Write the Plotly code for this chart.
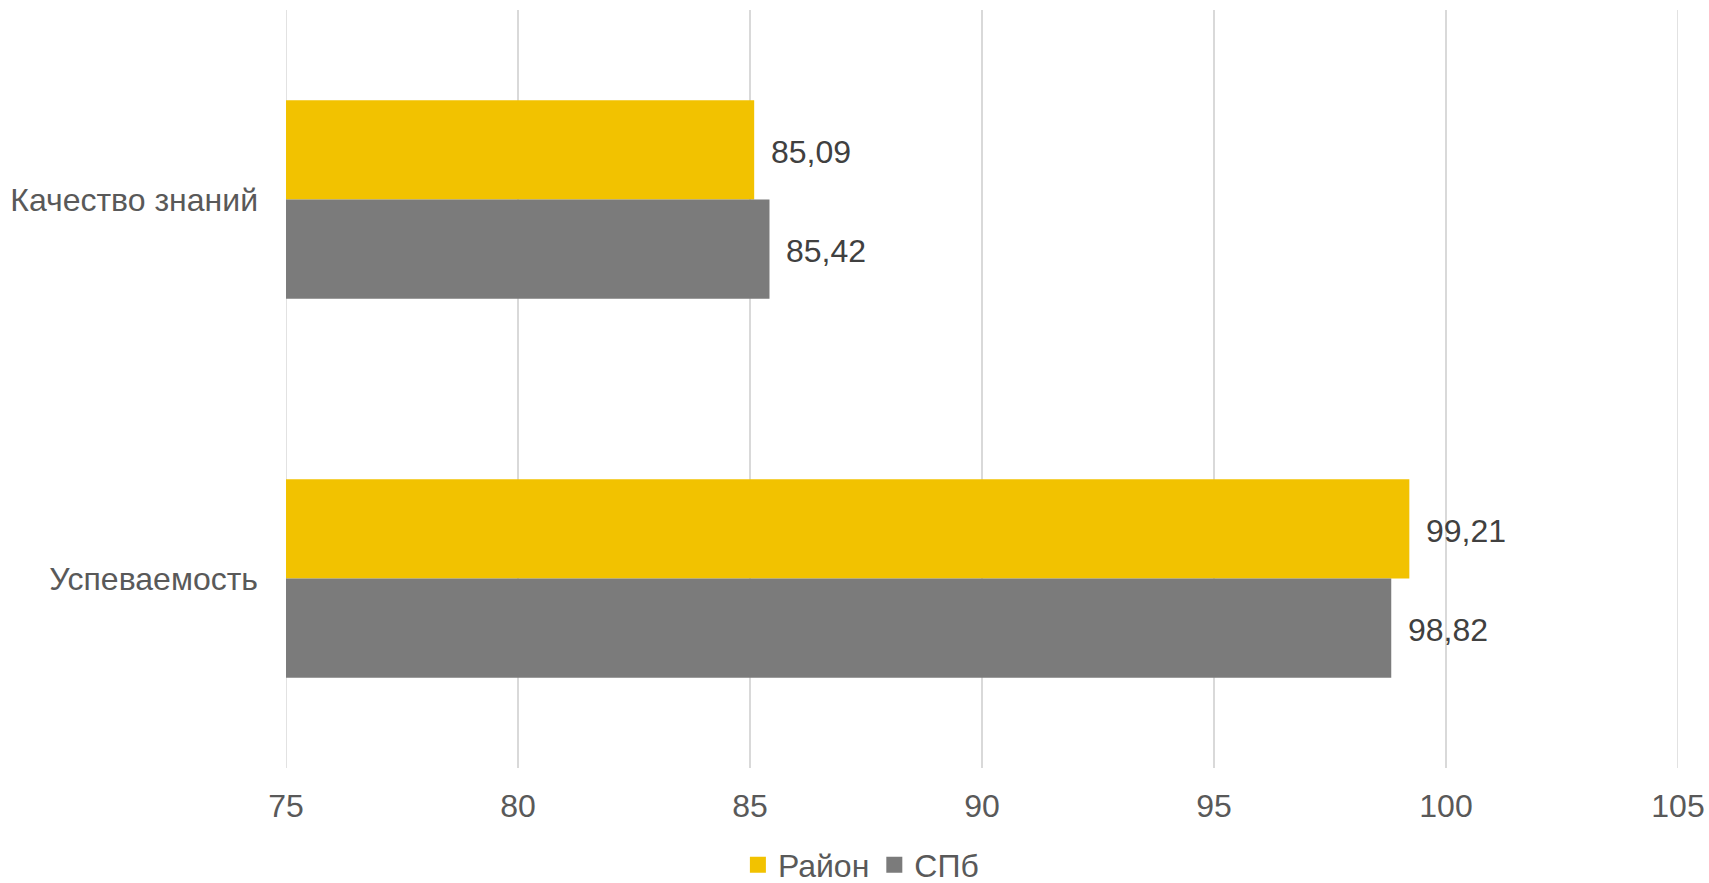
import plotly.graph_objects as go

categories = ["Качество знаний", "Успеваемость"]
rayon = [85.09, 99.21]
spb = [85.42, 98.82]
series_names = ["Район", "СПб"]
x_ticks = [75, 80, 85, 90, 95, 100, 105]

colors = ["#F2C200", "#7B7B7B"]
FONT = "Liberation Sans, Arial, sans-serif"
FS = 32
GRID = "#D9D9D9"


def fmt(v):
    return f"{v:.2f}".replace(".", ",")


fig = go.Figure()
for name, vals, col in zip(series_names, [rayon, spb], colors):
    fig.add_trace(go.Bar(
        y=categories, x=vals, name=name, orientation="h",
        marker=dict(color=col, line=dict(width=0)),
        showlegend=False,
    ))
# legend entries with larger square symbols
for name, col in zip(series_names, colors):
    fig.add_trace(go.Scatter(
        x=[None], y=[None], mode="markers", name=name,
        marker=dict(symbol="square", size=17, color=col),
        showlegend=True,
    ))

# value labels right of bar ends
bargap = 0.476
half = (1 - bargap) / 4
offsets = [-half, half]
for si, vals in enumerate([rayon, spb]):
    for ci, v in enumerate(vals):
        fig.add_annotation(
            x=v, y=ci + offsets[si], xref="x", yref="y",
            text=fmt(v), showarrow=False, xanchor="left", yanchor="middle",
            xshift=15, yshift=-2, font=dict(family=FONT, size=FS, color="#404040"),
        )

# gridlines at the axis range ends (plotly omits them at the edges)
for xv in (x_ticks[0], x_ticks[-1]):
    fig.add_shape(type="line", xref="x", yref="paper", x0=xv, x1=xv, y0=0, y1=1,
                  line=dict(color=GRID, width=1.5), layer="below")

fig.update_layout(
    width=1709, height=883,
    margin=dict(l=286, r=31, t=10, b=115, autoexpand=False),
    paper_bgcolor="white", plot_bgcolor="white",
    barmode="group", bargap=bargap, bargroupgap=0,
    font=dict(family=FONT, size=FS, color="#595959"),
    showlegend=True,
    legend=dict(orientation="h", x=0.413, xanchor="center", y=-0.128, yanchor="middle",
                font=dict(family=FONT, size=FS, color="#595959"),
                itemclick=False, tracegroupgap=0, itemwidth=30),
    xaxis=dict(range=[x_ticks[0], x_ticks[-1]], tickvals=x_ticks,
               ticktext=[str(t) for t in x_ticks],
               showgrid=True, gridcolor=GRID, gridwidth=1.5, zeroline=False,
               showline=False, ticks="", ticklabelstandoff=16,
               tickfont=dict(family=FONT, size=FS, color="#595959")),
    yaxis=dict(type="category", categoryorder="array", categoryarray=categories,
               autorange="reversed", showgrid=False, zeroline=False, showline=False,
               ticks="", ticklabelstandoff=27,
               tickfont=dict(family=FONT, size=FS, color="#595959")),
)

fig.write_html(
    "out.html",
    config={"displayModeBar": False},
    post_script="document.body.style.margin='0';document.body.style.overflow='hidden';",
)
